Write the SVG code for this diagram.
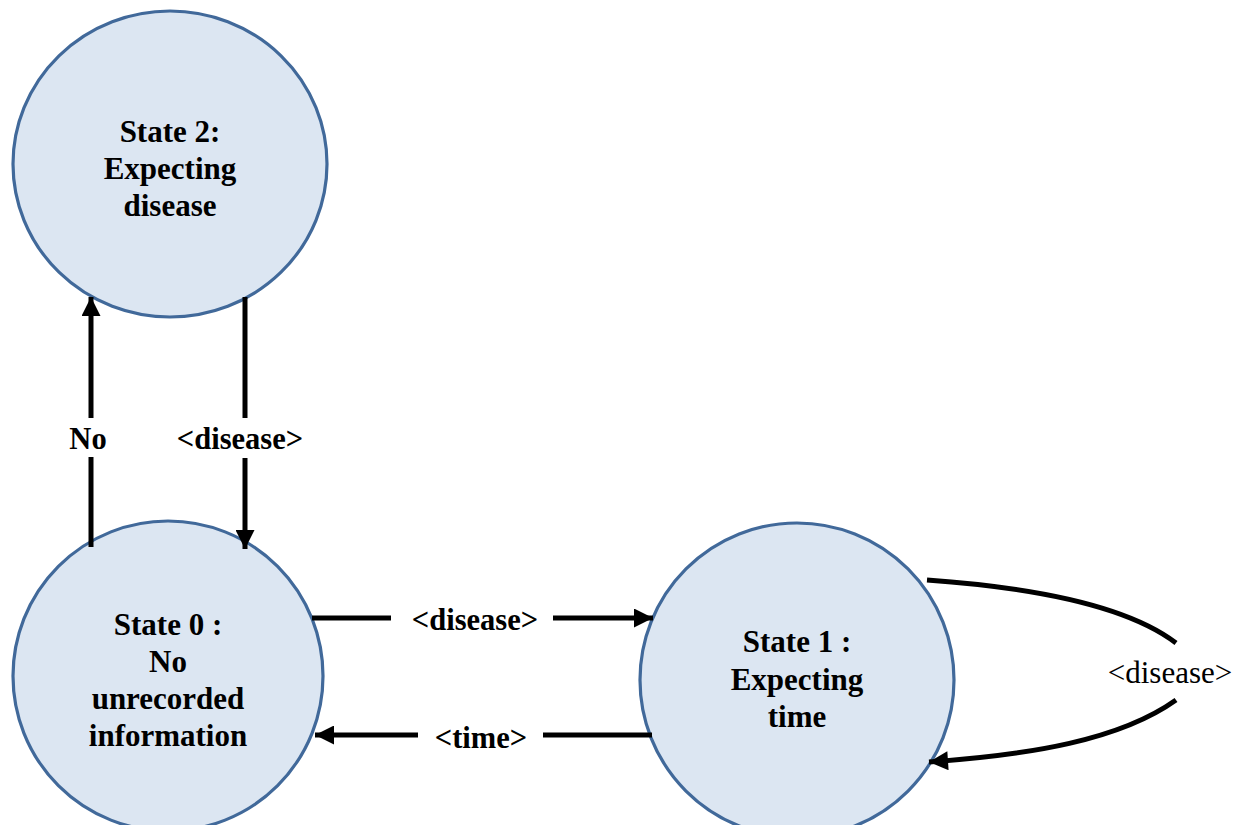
<svg xmlns="http://www.w3.org/2000/svg" width="1236" height="825" viewBox="0 0 1236 825">
<style>
.node{fill:#dce6f2;stroke:#41699a;stroke-width:3.2}
.nt{font-family:"Liberation Serif",serif;font-weight:bold;font-size:31px;fill:#000;text-anchor:middle}
.lb{font-family:"Liberation Serif",serif;font-weight:bold;font-size:30.5px;fill:#000;text-anchor:middle}
.lbn{font-family:"Liberation Serif",serif;font-size:31px;fill:#000;text-anchor:middle}
.c{fill:none;stroke:#000;stroke-width:5}
</style>
<defs>
<marker id="ah" viewBox="0 0 10 10" refX="10" refY="5" markerWidth="4.4" markerHeight="3.8" orient="auto" markerUnits="strokeWidth">
<path d="M0,0 L10,5 L0,10 z" fill="#000"/>
</marker>
</defs>
<rect width="1236" height="825" fill="#fff"/>
<g id="state2">
<ellipse class="node" cx="170" cy="164" rx="157" ry="153"/>
<text class="nt" x="170" y="142">State 2:</text>
<text class="nt" x="170" y="179">Expecting</text>
<text class="nt" x="170" y="216">disease</text>
</g>
<g id="state0">
<ellipse class="node" cx="168" cy="676" rx="155" ry="155"/>
<text class="nt" x="168" y="635">State 0 :</text>
<text class="nt" x="168" y="672">No</text>
<text class="nt" x="168" y="709">unrecorded</text>
<text class="nt" x="168" y="746">information</text>
</g>
<g id="state1">
<ellipse class="node" cx="797" cy="680" rx="157" ry="157"/>
<text class="nt" x="797" y="652">State 1 :</text>
<text class="nt" x="797" y="690">Expecting</text>
<text class="nt" x="797" y="727">time</text>
</g>
<g id="connectors">
<line class="c" x1="91" y1="547" x2="91" y2="457"/>
<line class="c" x1="91" y1="418" x2="91" y2="297" marker-end="url(#ah)"/>
<text class="lb" x="88" y="449">No</text>
<line class="c" x1="245" y1="297" x2="245" y2="418"/>
<line class="c" x1="245" y1="458" x2="245" y2="549" marker-end="url(#ah)"/>
<text class="lb" x="240" y="449">&lt;disease&gt;</text>
<line class="c" x1="312" y1="618" x2="391" y2="618"/>
<line class="c" x1="553" y1="618" x2="653" y2="618" marker-end="url(#ah)"/>
<text class="lb" x="475" y="630">&lt;disease&gt;</text>
<line class="c" x1="652" y1="735" x2="543" y2="735"/>
<line class="c" x1="418" y1="735" x2="315" y2="735" marker-end="url(#ah)"/>
<text class="lb" x="481" y="748">&lt;time&gt;</text>
<path class="c" d="M927,580 C1040,588 1130,608 1176,643"/>
<path class="c" d="M1176,700 C1120,740 1030,755 929,762" marker-end="url(#ah)"/>
<text class="lbn" x="1170" y="683">&lt;disease&gt;</text>
</g>
</svg>
